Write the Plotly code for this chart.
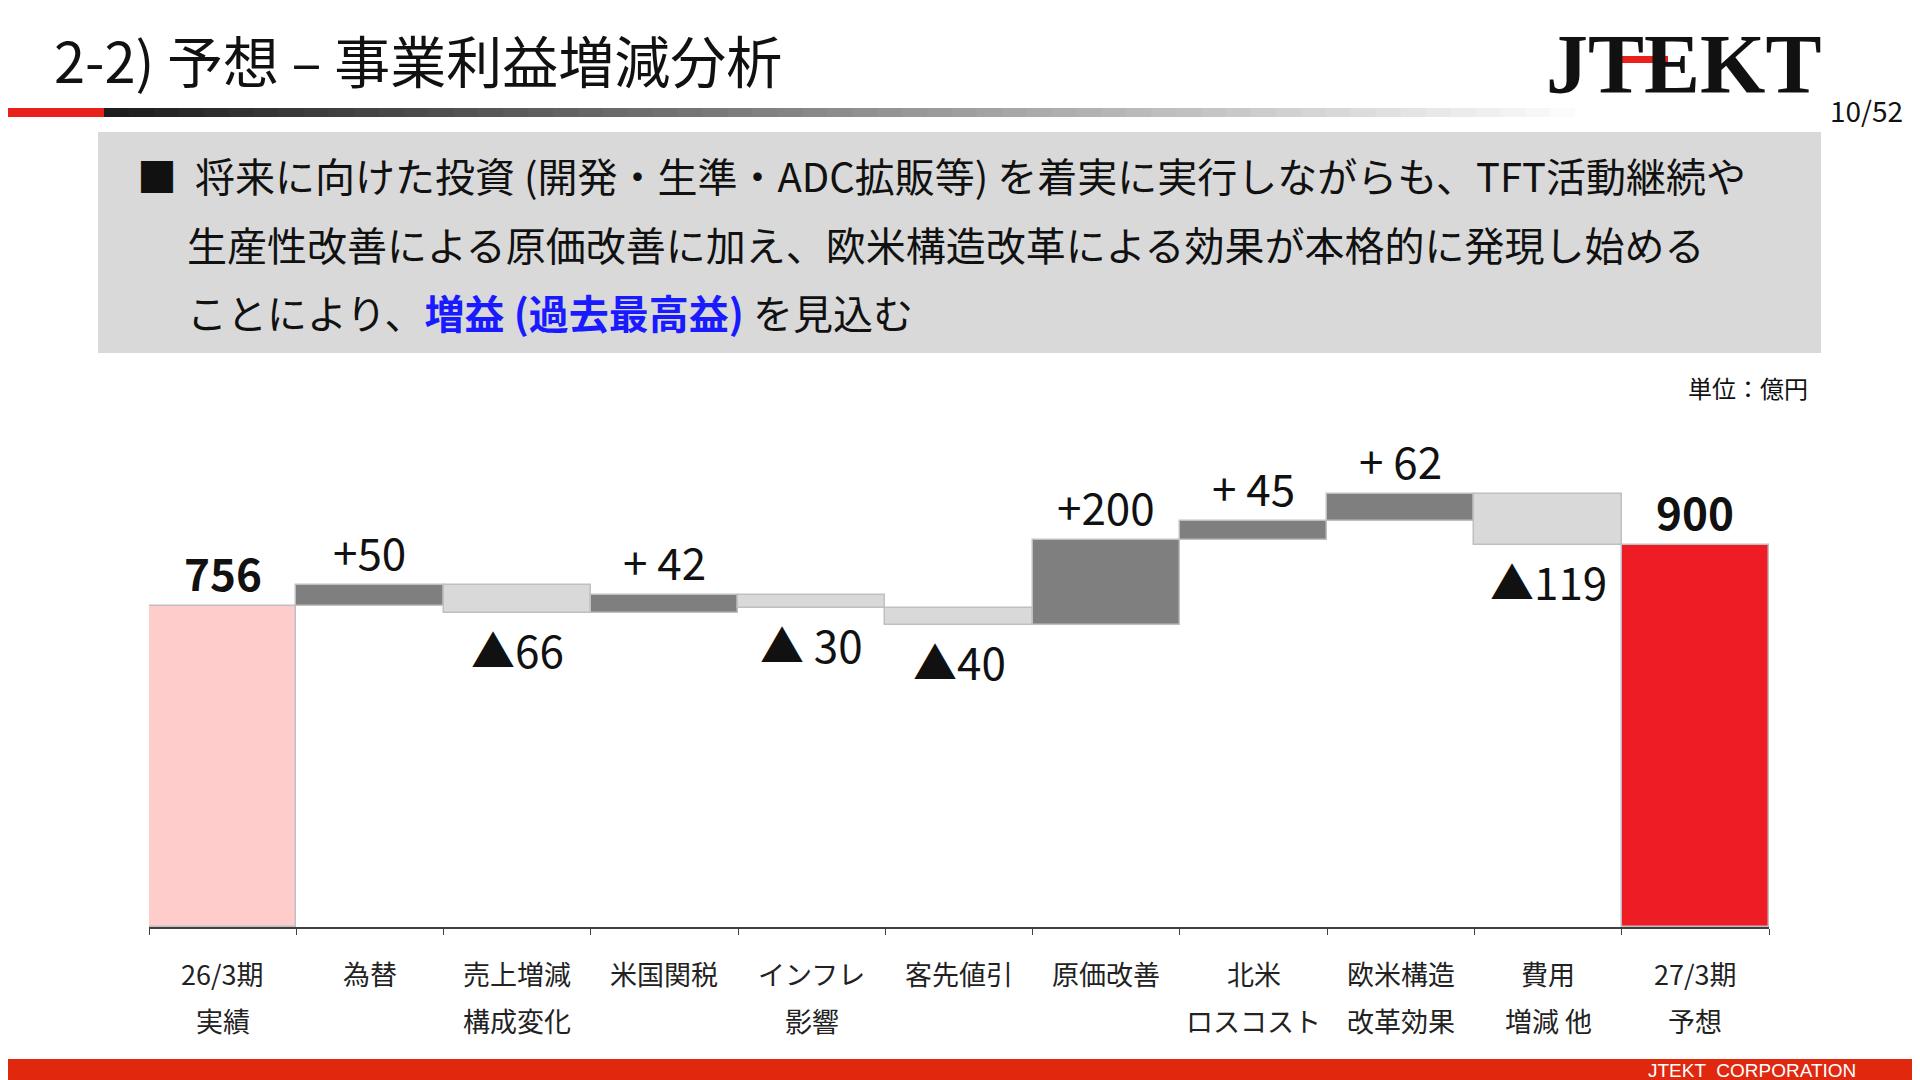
import plotly.graph_objects as go

# データ (億円)
categories = ["26/3期<br>実績", "為替", "売上増減<br>構成変化", "米国関税", "インフレ<br>影響",
              "客先値引", "原価改善", "北米<br>ロスコスト", "欧米構造<br>改革効果", "費用<br>増減 他", "27/3期<br>予想"]
start_value = 756
changes = [50, -66, 42, -30, -40, 200, 45, 62, -119]
end_value = 900
labels = ["756", "+50", "▲66", "+ 42", "▲ 30", "▲40", "+200", "+ 45", "+ 62", "▲119", "900"]

FONT = "Noto Sans CJK JP"
W, H, OFF = 1912, 1072, 8  # ページ余白 8px を補正


def px(v):
    return (v - OFF) / W


def py(v):
    return 1 - (v - OFF) / H


bases, heights, colors = [0], [start_value], ["#ffcccc"]
level = start_value
for c in changes:
    bases.append(level if c > 0 else level + c)
    heights.append(abs(c))
    colors.append("#7f7f7f" if c > 0 else "#d9d9d9")
    level += c
bases.append(0)
heights.append(end_value)
colors.append("#ee1c25")

x = list(range(len(categories)))
fig = go.Figure(go.Bar(x=x, y=heights, base=bases, marker=dict(color=colors, line=dict(color="#bfbfbf", width=1.5)),
                       width=1, hoverinfo="skip"))

ann = []
# 値ラベル
for i, (b, h, t) in enumerate(zip(bases, heights, labels)):
    up = i in (0, len(x) - 1) or changes[i - 1] > 0
    bold = i in (0, len(x) - 1)
    ann.append(dict(x=i, y=b + h if up else b, text="<b>" + t + "</b>" if bold else t, showarrow=False,
                    xref="x", yref="y", yanchor="middle", xanchor="center",
                    yshift=34 if up else -36, font=dict(size=44, color="#111", family=FONT)))
# カテゴリラベル
for i, c in enumerate(categories):
    for j, part in enumerate(c.split("<br>")):
        ann.append(dict(x=i, y=py(973 + 47 * j), xref="x", yref="paper", text=part, showarrow=False,
                        xanchor="center", yanchor="middle", font=dict(size=27, color="#222", family=FONT)))


def txt(xp, yp, t, size, anchor="left", color="#111", family=FONT):
    return dict(x=px(xp), y=py(yp), xref="paper", yref="paper", xanchor=anchor, yanchor="middle", text=t,
                showarrow=False, font=dict(size=size, color=color, family=family))


ann += [
    txt(52, 58, "2-2) 予想 – 事業利益増減分析", 56),
    txt(1683, 64, "<b>JTEKT</b>", 84, "center", family="Liberation Serif"),
    txt(1905, 110, "10/52", 28, "right"),
    txt(135, 175, "■  将来に向けた投資 (開発・生準・ADC拡販等) を着実に実行しながらも、TFT活動継続や", 40),
    txt(185, 244, "生産性改善による原価改善に加え、欧米構造改革による効果が本格的に発現し始める", 40),
    txt(185, 312, "ことにより、<b><span style='color:#1a1aff'>増益 (過去最高益)</span></b> を見込む", 40),
    txt(1810, 387, "単位：億円", 24, "right"),
    txt(1858, 1070, "JTEKT  CORPORATION", 19, "right", color="white", family="Liberation Sans"),
]


def rect(x0, x1, y0, y1, color, layer="above"):
    return dict(type="rect", xref="paper", yref="paper", x0=px(x0), x1=px(x1), y0=py(y1), y1=py(y0),
                fillcolor=color, line_width=0, layer=layer)


shapes = [
    rect(98, 1821, 132, 353, "#d9d9d9", "below"),
    rect(0, 1920, 1059, 1085, "#e0280f"),
    rect(0, 104, 108, 117, "#e8211b"),
    rect(1622, 1668, 56, 63, "#e8211b"),
]
# グラデーション線
n = 60
x0, x1 = 104, 1600
for k in range(n):
    g = int(30 + 225 * k / (n - 1))
    s = rect(x0 + (x1 - x0) * k / n, x0 + (x1 - x0) * (k + 1) / n + 1, 108, 117, f"rgb({g},{g},{g})")
    shapes.append(s)

fig.update_layout(
    width=W, height=H, margin=dict(l=0, r=0, t=0, b=0),
    paper_bgcolor="white", plot_bgcolor="white", showlegend=False, bargap=0,
    xaxis=dict(domain=[px(149), px(1769)], range=[-0.5, 10.5], showticklabels=False, showgrid=False,
               zeroline=False, showline=True, linecolor="#404040", linewidth=1.5, ticks="outside", ticklen=6,
               tickcolor="#404040", tickvals=[i - 0.5 for i in range(12)]),
    yaxis=dict(domain=[py(927), py(460)], range=[0, 1100], visible=False),
    annotations=ann, shapes=shapes,
)
fig.write_html("out.html")
